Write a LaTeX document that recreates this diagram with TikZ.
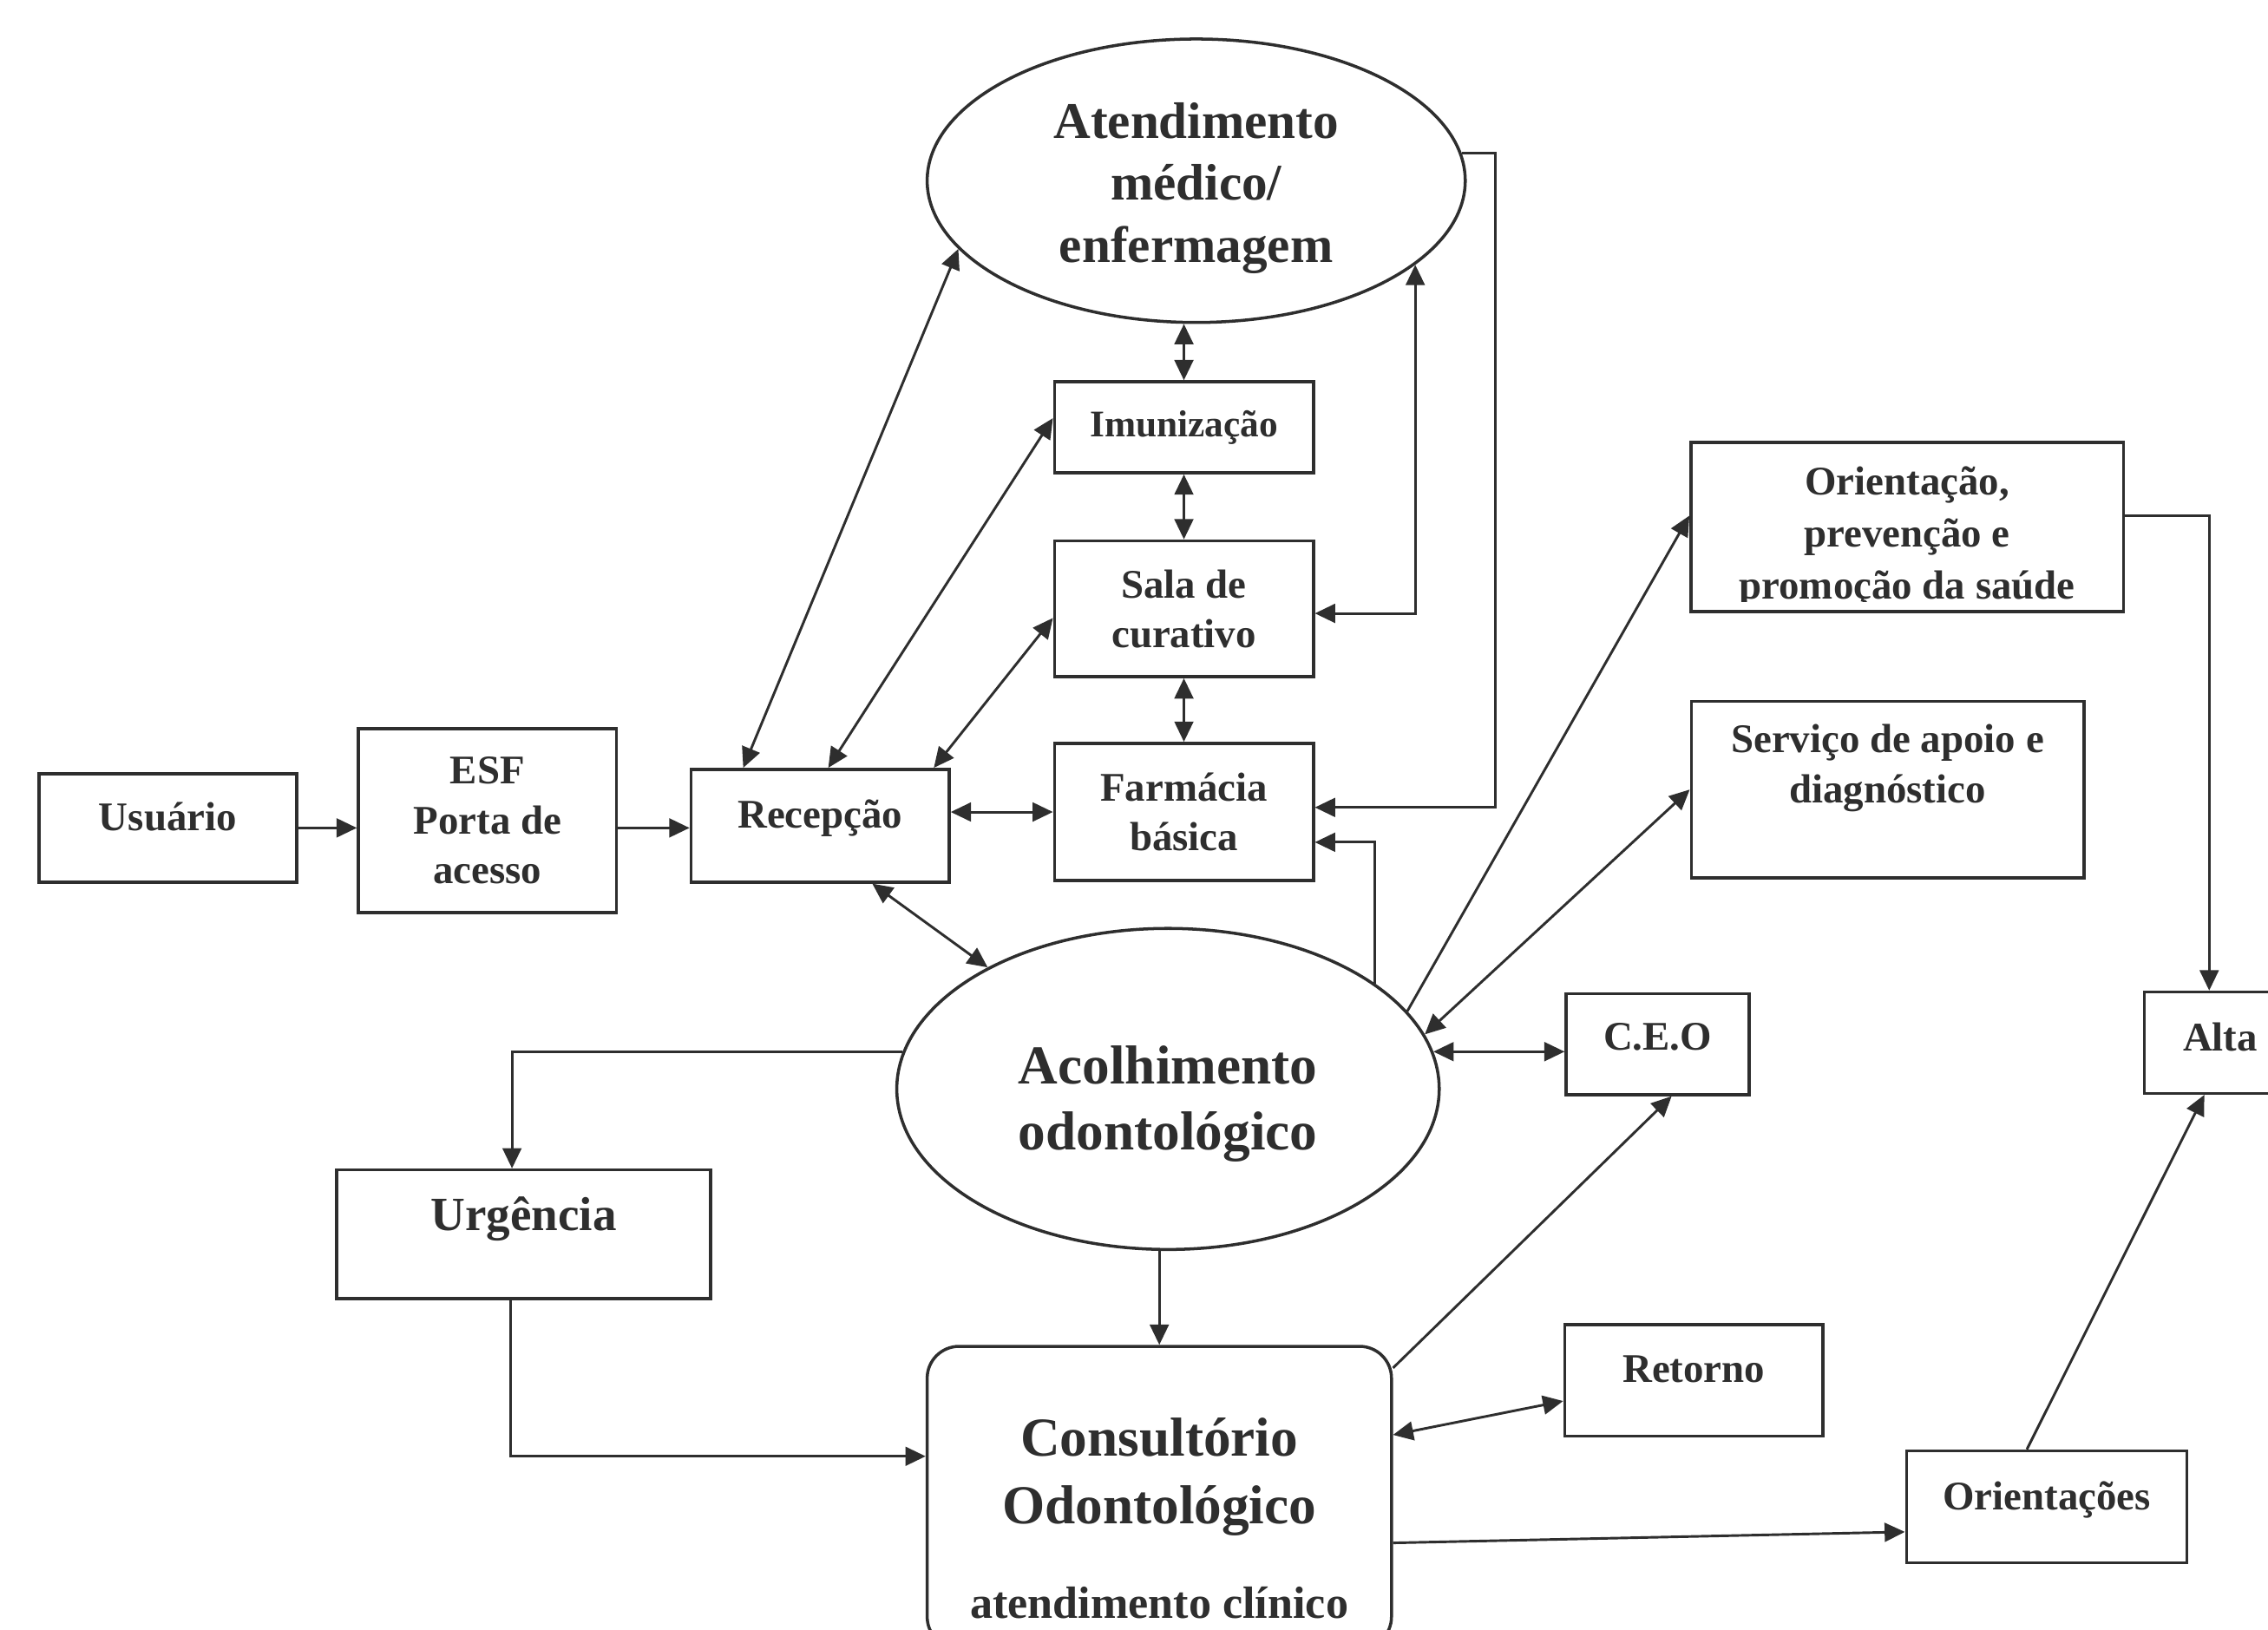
\documentclass[tikz,border=0pt]{standalone}
\usepackage{fontspec}
\setmainfont{Liberation Serif}
\usepackage{xcolor}
\usepackage{tikz}
\usetikzlibrary{arrows.meta,shapes.geometric}
\definecolor{ink}{HTML}{2E2E2E}
\tikzset{
  box/.style={draw=ink, line width=0.6pt, text=ink, align=center, inner sep=0pt,
    font=\fontsize{8}{9.8}\selectfont\bfseries},
  oval/.style={ellipse, draw=ink, line width=0.6pt, text=ink, align=center, inner sep=0pt},
  link/.style={draw=ink, line width=0.5pt, -{Triangle[length=1.4mm,width=1.3mm]}},
  both/.style={link, {Triangle[length=1.4mm,width=1.3mm]}-{Triangle[length=1.4mm,width=1.3mm]}}
}
\begin{document}
\begin{tikzpicture}
        \useasboundingbox (0,0) rectangle (15.68,11.27);

        % left chain
        \node[box, minimum width=1.78cm, minimum height=0.75cm, text depth=0.16cm] (usuario) at (1.16,5.545) {Usuário};
        \node[box, minimum width=1.785cm, minimum height=1.27cm] (esf) at (3.37,5.595) {ESF\\Porta de\\acesso};
        \node[box, minimum width=1.785cm, minimum height=0.78cm, text depth=0.16cm] (recepcao) at (5.67,5.56) {Recepção};

        % middle column
        \node[oval, minimum width=3.72cm, minimum height=1.96cm, font=\fontsize{10.1}{12.2}\selectfont\bfseries] (atend) at (8.27,10.02) {\rule{0pt}{0.345cm}Atendimento\\médico/\\enfermagem};
        \node[box, minimum width=1.79cm, minimum height=0.63cm, font=\fontsize{7.4}{9}\selectfont\bfseries] (imuniz) at (8.185,8.315) {Imunização};
        \node[box, minimum width=1.79cm, minimum height=0.94cm] (sala) at (8.185,7.06) {Sala de\\curativo};
        \node[box, minimum width=1.79cm, minimum height=0.95cm] (farmacia) at (8.185,5.655) {Farmácia\\básica};
        \node[oval, minimum width=3.75cm, minimum height=2.22cm, font=\fontsize{10.8}{13}\selectfont\bfseries] (acolh) at (8.075,3.74) {\rule{0pt}{0.47cm}Acolhimento\\odontológico};
        \node[box, rounded corners=0.22cm, minimum width=3.21cm, minimum height=2.09cm, font=\fontsize{10.8}{13.4}\selectfont\bfseries] (consult) at (8.015,0.915) {\rule{0pt}{0.55cm}Consultório\\Odontológico\\[0.18cm]{\fontsize{8.9}{10}\selectfont atendimento clínico}};
        \node[box, minimum width=2.585cm, minimum height=0.89cm, font=\fontsize{9.4}{11}\selectfont\bfseries, text depth=0.28cm] (urgencia) at (3.62,2.735) {Urgência};

        % right side
        \node[box, minimum width=2.99cm, minimum height=1.17cm,
          path picture={\clip ([yshift=0.068cm]path picture bounding box.south west) rectangle (path picture bounding box.north east);
            \node[draw=none, text=ink, align=center, inner sep=0pt, font=\fontsize{8}{10.3}\selectfont\bfseries, yshift=-0.07cm] (orienttext) at (path picture bounding box.center) {Orientação,\\prevenção e\\promoção da saúde};}] (orient) at (13.185,7.625) {};
        \node[box, minimum width=2.715cm, minimum height=1.22cm] (servico) at (13.05,5.81) {Serviço de apoio e\\diagnóstico\rule[-0.36cm]{0pt}{0pt}};
        \node[box, minimum width=1.265cm, minimum height=0.70cm, text depth=0.10cm] (ceo) at (11.46,4.05) {C.E.O};
        \node[box, minimum width=1.05cm, minimum height=0.70cm, text depth=0.08cm] (alta) at (15.35,4.06) {Alta};
        \node[box, minimum width=1.785cm, minimum height=0.77cm, text depth=0.16cm] (retorno) at (11.71,1.725) {Retorno};
        \node[box, minimum width=1.94cm, minimum height=0.775cm, text depth=0.16cm] (orientacoes) at (14.15,0.85) {Orientações};

        % connectors
        \draw[link] (usuario.east) -- (usuario.east -| esf.west);
        \draw[link] (esf.east |- usuario.east) -- (recepcao.west |- usuario.east);
        \draw[both] (recepcao.143) -- (atend.196);
        \draw[both] (recepcao.82) -- (imuniz.176);
        \draw[both] (recepcao.27) -- (sala.184);
        \draw[both] (recepcao.east |- farmacia.west) -- (farmacia.west);
        \draw[both] (recepcao.-48) -- (acolh.146.6);
        \draw[both] (imuniz.north) -- (imuniz.north |- atend.south);
        \draw[both] (imuniz.south) -- (sala.north);
        \draw[both] (sala.south) -- (farmacia.north);
        \draw[both] (sala.-2) -| (atend.-21);
        \draw[link] (atend.6) -- ++(0.235,0) |- (farmacia.2);
        \draw[link] (acolh.27) |- (farmacia.-13.5);
        \draw[link] (acolh.18) -- (orient.177.5);
        \draw[both] (acolh.12.5) -- (servico.west);
        \draw[both] (acolh.8) -- (acolh.8 -| ceo.west);
        \draw[link] (consult.29) -- (ceo.-75);
        \draw[both] (consult.15) -- (retorno.189);
        \draw[link] (consult.-11) -- (orientacoes.190.5);
        \draw[link] (orientacoes.109) -- (alta.-107);
        \draw[link] (orient.3.6) -| (alta.102);
        \draw[link] (acolh.172) -| (urgencia.100);
        \draw[link] (acolh.south -| consult.north) -- (consult.north);
        \draw[link] (urgencia.-101) |- (consult.170);
    \end{tikzpicture}
\end{document}
